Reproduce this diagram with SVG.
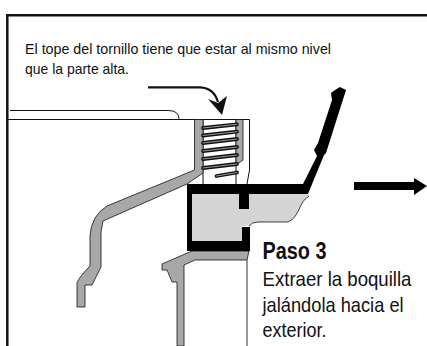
<svg xmlns="http://www.w3.org/2000/svg" width="427" height="346" viewBox="0 0 427 346">
<style>
.t{font-family:"Liberation Sans",Arial,sans-serif;fill:#111}
.g{fill:#a8a8a8;stroke:#111;stroke-width:.8}
.l{fill:none;stroke:#111;stroke-width:1}
.th{stroke:#111;stroke-width:3.8;stroke-linecap:round;fill:none}
.th2{stroke:#999;stroke-width:1;stroke-linecap:round;fill:none}
</style>
<rect width="427" height="346" fill="#fff"/>
<path d="M7.300 346V15.200H427" fill="none" stroke="#111" stroke-width="2.500"/>
<g id="labels">
<text class="t" x="25" y="54" font-size="15" textLength="306" lengthAdjust="spacingAndGlyphs">El tope del tornillo tiene que estar al mismo nivel</text>
<text class="t" x="25" y="74" font-size="15" textLength="104" lengthAdjust="spacingAndGlyphs">que la parte alta.</text>
<text class="t" transform="translate(262.500 259) scale(.864 1)" font-size="23" font-weight="700">Paso 3</text>
<text class="t" transform="translate(262.500 286) scale(.887 1)" font-size="21">Extraer la boquilla</text>
<text class="t" transform="translate(262.500 312) scale(.87 1)" font-size="21">jalándola hacia el</text>
<text class="t" transform="translate(262.500 336.500) scale(.857 1)" font-size="21">exterior.</text>
</g>
<g id="structure">
<path class="l" d="M8 119.500H249.500V170L247 184M10 110.500H168Q179 110.500 179 119"/>
<path class="l" d="M203 119.500V184M236 119.500V184"/>
<path class="g" d="M194.500 119.500H203V173L187 184L103 221L101 232V267L92 285H85V307H77V283Q79 277 90 266V236Q91 216 107 206L194.500 170Z"/>
<path class="g" d="M236 119.500H243V160L236 165Z"/>
<path class="g" d="M192 251L162 264V270H167L172 282H177V346H184V265L195 260H247L249 251Z"/>
<path d="M247 260V346" stroke="#777" stroke-width="1.500" fill="none"/>
</g>
<g id="screw">
<path class="th" d="M203 128L237 124.300M203 135.500L237 131.700M203 143L237 139M203 151L237 147M203 159L237 155M203 168L237 164M216.500 176L237 172.500"/>
<path class="th2" d="M203 128L237 124.300M203 135.500L237 131.700M203 143L237 139M203 151L237 147M203 159L237 155M203 168L237 164M216.500 176L237 172.500"/>
</g>
<g id="nozzle">
<path d="M192 194H309V196Q303 200 301 205T296 215T288 222H258Q252 222 249 226H242V241H192Z" fill="#d4d4d4"/>
<path d="M187 184H303L317 156L314 150L318 143L332 100L331 93L335 90L340 87L346 90L326 153L324 155L308 194H249V209H239V194H192V241H242V227H250V251H187Z" fill="#000"/>
<path d="M309 196Q303 200 301 205T296 215T288 222H258Q252 222 249 226" fill="none" stroke="#111" stroke-width=".8"/>
</g>
<g id="connectors">
<path d="M148 87.300H200Q214 88 218 102" fill="none" stroke="#111" stroke-width="2.200"/>
<path d="M208 99L218 103L227 96L222 115Z" fill="#111"/>
<path d="M354 182H414V178L427 186L414 195V190H354Z" fill="#000"/>
</g>
</svg>
